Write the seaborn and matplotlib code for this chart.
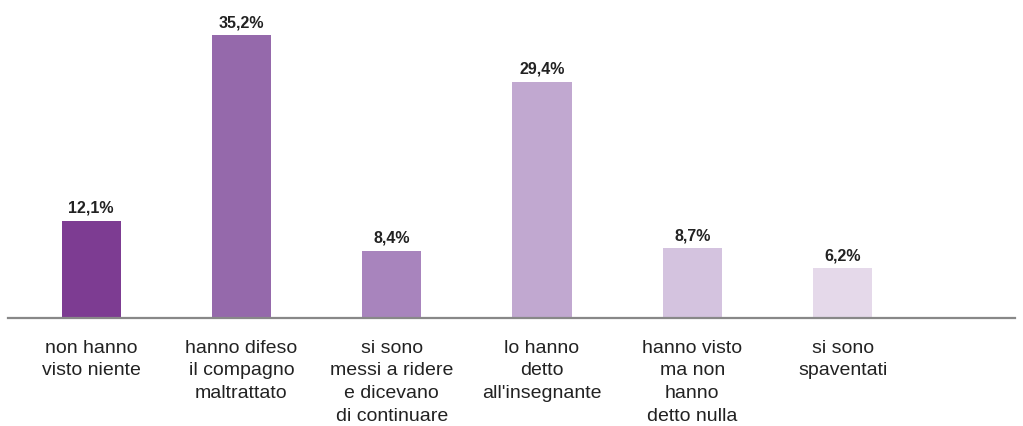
import matplotlib
matplotlib.use("Agg")
import matplotlib.pyplot as plt
import pandas as pd
import seaborn as sns


CATEGORIES = [
    "non hanno\nvisto niente",
    "hanno difeso\nil compagno\nmaltrattato",
    "si sono\nmessi a ridere\ne dicevano\ndi continuare",
    "lo hanno\ndetto\nall'insegnante",
    "hanno visto\nma non\nhanno\ndetto nulla",
    "si sono\nspaventati",
]
VALUES = [12.1, 35.2, 8.4, 29.4, 8.7, 6.2]
COLORS = ["#7d3c92", "#9569ab", "#a884bd", "#c1a8d0", "#d4c3df", "#e5d9ea"]


def main() -> None:
    sns.set_theme(style="white")
    plt.rcParams["font.family"] = ["Liberation Sans", "DejaVu Sans"]

    df = pd.DataFrame({"label": CATEGORIES, "value": VALUES})

    fig = plt.figure(figsize=(10.23, 4.27), dpi=100)
    ax = fig.add_axes([8 / 1023, 108 / 427, 1007 / 1023, 318 / 427])

    sns.barplot(
        data=df, x="label", y="value", hue="label", palette=COLORS,
        width=0.393, legend=False, ax=ax, saturation=1, linewidth=0,
    )

    for i, v in enumerate(VALUES):
        ax.annotate(
            f"{v:.1f}%".replace(".", ","), xy=(i, v), xytext=(0, 9),
            textcoords="offset pixels", ha="center", va="baseline",
            fontsize=11.5, fontweight="bold", color="#222222",
        )

    ax.set_xlim(-0.553, 6.147)
    ax.set_ylim(0, 39.6)
    ax.set_xlabel("")
    ax.set_ylabel("")
    ax.set_yticks([])
    ax.tick_params(axis="x", length=0, pad=15)
    for lbl in ax.get_xticklabels():
        lbl.set_fontsize(14)
        lbl.set_color("#222222")
        lbl.set_linespacing(1.43)

    for side in ["top", "left", "right"]:
        ax.spines[side].set_visible(False)
    ax.spines["bottom"].set_color("#888888")
    ax.spines["bottom"].set_linewidth(1.6)

    fig.savefig("out.png", dpi=100)
    plt.close(fig)


if __name__ == "__main__":
    main()
